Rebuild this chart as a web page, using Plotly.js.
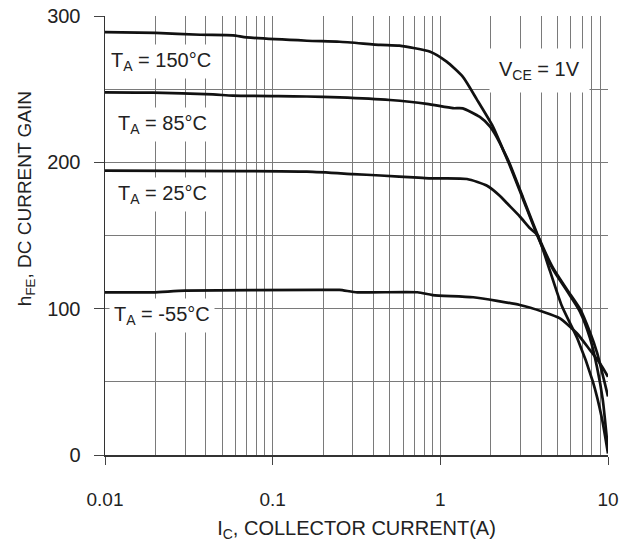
<!DOCTYPE html>
<html>
<head>
<meta charset="utf-8">
<script src="https://cdn.plot.ly/plotly-3.0.1.min.js"></script>
<style>html,body{margin:0;padding:0;background:#fff;}#chart{width:619px;height:542px;}</style>
</head>
<body>
<div id="chart"></div>
<script>
// Collector current (A) and DC current gain for each ambient temperature
const ic150 = [0.01, 0.02, 0.037, 0.058, 0.07, 0.16, 0.25, 0.44, 0.57, 0.87, 1.09, 1.36, 1.65, 2.06, 2.36, 2.57, 3.11, 3.82, 4.69, 5.7, 6.8, 7.8, 8.6, 10];
const hfe150 = [289, 288.4, 287.2, 286.8, 285.4, 283.1, 282.4, 280.3, 279.7, 275.6, 268.8, 258.5, 243, 224.4, 209, 200, 176, 150, 128, 113, 100, 84, 70, 40];

const ic85 = [0.01, 0.0193, 0.044, 0.058, 0.16, 0.25, 0.5, 0.83, 1.19, 1.36, 1.72, 1.98, 2.27, 2.57, 3.11, 3.82, 4.69, 5.7, 6.8, 7.8, 8.6, 9.3, 10];
const hfe85 = [247.8, 247.6, 246.4, 245.6, 245, 244.4, 242.6, 240, 237, 236.9, 231, 224.4, 213, 199, 175, 149, 127, 112, 98, 80, 60, 38, 3];

const ic25 = [0.01, 0.16, 0.3, 0.44, 0.74, 0.87, 1.44, 1.9, 2.27, 2.5, 2.98, 3.42, 3.8, 4.5, 5.3, 6.6, 8.13, 9.2, 10];
const hfe25 = [194.3, 193.6, 192, 191, 189.5, 189, 188.6, 184, 177, 172, 163, 155, 150, 126, 102, 79, 50, 25, 1];

const icm55 = [0.01, 0.0193, 0.03, 0.19, 0.25, 0.32, 0.73, 0.9, 1.57, 2.98, 4.09, 5.17, 6.52, 7.8, 8.95, 10];
const hfem55 = [111.2, 111.2, 112.3, 112.8, 112.8, 111.2, 111.2, 109.3, 107.8, 102.5, 97.9, 93.4, 83.2, 71.8, 62.7, 53.5];

const xTickVals = [0.01, 0.1, 1, 10];
const xTickText = ['0.01', '0.1', '1', '10'];
const yTickVals = [0, 100, 200, 300];

const labels = ['T<sub>A</sub> = 150°C', 'T<sub>A</sub> = 85°C', 'T<sub>A</sub> = 25°C', 'T<sub>A</sub> = -55°C'];
const labelX = [0.0102, 0.0112, 0.0112, 0.0106];
const labelY = [269, 226, 178, 95];

const FONT = 'Liberation Sans, Arial, sans-serif';
const lineStyle = {color: '#111', width: 2.7, shape: 'spline', smoothing: 0.6};

const traces = [
  {x: ic150, y: hfe150, mode: 'lines', line: lineStyle, name: '150°C'},
  {x: ic85, y: hfe85, mode: 'lines', line: lineStyle, name: '85°C'},
  {x: ic25, y: hfe25, mode: 'lines', line: lineStyle, name: '25°C'},
  {x: icm55, y: hfem55, mode: 'lines', line: lineStyle, name: '-55°C'}
];

const annotations = labels.map((t, i) => ({
  x: Math.log10(labelX[i]), y: labelY[i], xref: 'x', yref: 'y', text: t,
  showarrow: false, xanchor: 'left', yanchor: 'middle',
  font: {family: FONT, size: 20, color: '#222'},
  bgcolor: '#fff', borderpad: 4
}));
annotations.push({
  x: Math.log10(3.9), y: 263, xref: 'x', yref: 'y', text: 'V<sub>CE</sub> = 1V',
  showarrow: false, xanchor: 'center', yanchor: 'middle',
  font: {family: FONT, size: 20, color: '#222'},
  bgcolor: '#fff', borderpad: 9
});
annotations.push({
  x: -0.185, y: 0.585, xref: 'paper', yref: 'paper', textangle: -90,
  text: 'h<sub>FE</sub>, DC CURRENT GAIN', showarrow: false,
  font: {family: FONT, size: 19, color: '#222'}
});

const layout = {
  width: 619, height: 542,
  margin: {l: 105, r: 11, t: 16, b: 87},
  paper_bgcolor: '#fff', plot_bgcolor: '#fff',
  showlegend: false,
  font: {family: FONT, color: '#222'},
  xaxis: {
    type: 'log', range: [-2, 1],
    tickmode: 'array', tickvals: xTickVals, ticktext: xTickText,
    ticks: 'outside', ticklen: 8, tickcolor: '#444', tickwidth: 1,
    tickfont: {family: FONT, size: 19, color: '#222'},
    ticklabelstandoff: 19,
    showgrid: true, gridcolor: '#7a7a7a', gridwidth: 1,
    minor: {dtick: 'D1', showgrid: true, gridcolor: '#7a7a7a', gridwidth: 1},
    showline: true, linecolor: '#333', linewidth: 1.5,
    zeroline: false,
    title: {text: 'I<sub>C</sub>, COLLECTOR CURRENT(A)', font: {family: FONT, size: 20, color: '#222'}, standoff: 12}
  },
  yaxis: {
    range: [0, 300],
    tickmode: 'array', tickvals: yTickVals,
    ticks: 'outside', ticklen: 10, tickcolor: '#444', tickwidth: 1,
    tickfont: {family: FONT, size: 20, color: '#222'},
    ticklabelstandoff: 9,
    showgrid: true, gridcolor: '#7a7a7a', gridwidth: 1,
    minor: {dtick: 50, showgrid: true, gridcolor: '#7a7a7a', gridwidth: 1},
    showline: true, linecolor: '#333', linewidth: 1.5,
    zeroline: false
  },
  annotations: annotations
};

Plotly.newPlot('chart', traces, layout, {staticPlot: true, displayModeBar: false});
</script>
</body>
</html>
